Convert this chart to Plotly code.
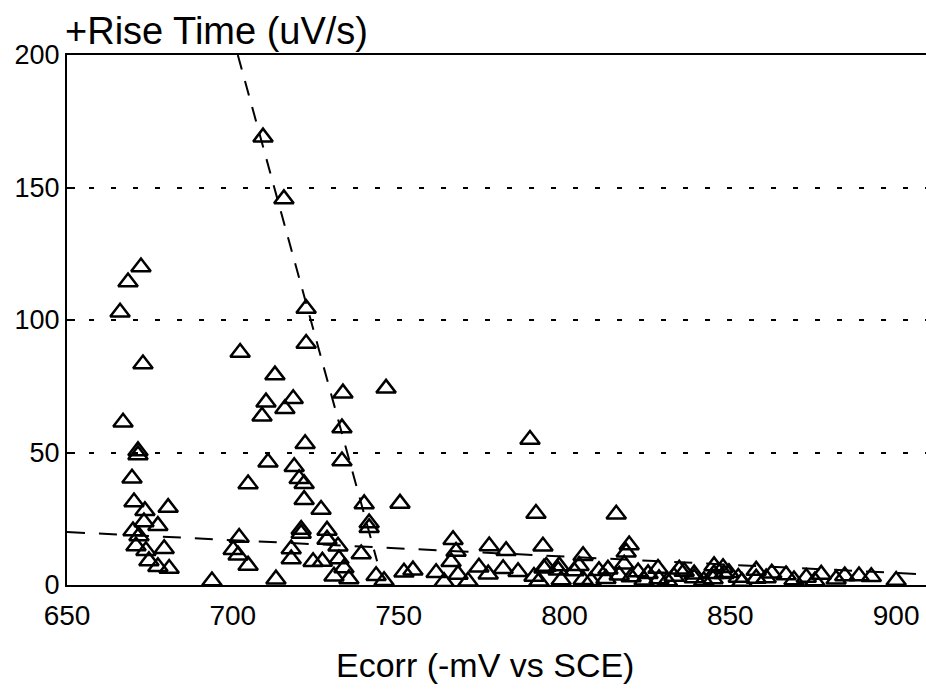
import plotly.graph_objects as go

# Data (Ecorr in -mV vs SCE, +Rise Time in uV/s)
ecorr = [
    672.3, 668.4, 666.0, 672.9, 666.9, 671.4, 671.4, 669.6, 670.2, 673.5, 680.5,
    673.2, 677.4, 669.9, 671.7, 670.8, 673.8, 679.3, 674.7, 677.4, 680.8,
    709.1, 715.4, 722.1, 722.1, 702.2, 712.7, 733.2, 746.2, 710.0, 718.2, 715.7,
    708.8, 732.9, 721.8, 710.6, 732.9, 718.5, 704.6, 720.0, 721.5, 721.5, 726.6,
    739.6, 750.4, 741.1, 741.1, 701.9, 720.6, 720.6, 728.4, 728.4, 731.7, 700.1,
    701.6, 717.6, 717.6, 704.6, 724.2, 727.0, 738.7, 732.0, 733.5, 693.7, 713.0,
    730.5, 735.0, 743.2, 745.6, 751.6, 754.3,
    789.6, 791.4, 815.6, 766.4, 767.3, 777.3, 782.4, 793.5, 805.6, 819.5, 818.6,
    765.8, 761.3, 774.2, 781.5, 786.0, 793.8, 798.1, 802.9, 813.1, 818.0, 822.2,
    828.2, 763.7, 767.9, 770.9, 777.0, 790.8, 792.3, 799.0, 805.6, 810.4, 816.5,
    820.1, 794.5, 798.4, 804.4,
    834.6, 833.0, 839.1, 845.1, 848.1, 844.8, 825.2, 836.1, 839.1, 845.1, 847.8,
    849.6, 852.4, 857.8, 857.8, 860.8, 866.8, 869.2, 872.9, 877.4, 881.9, 888.8,
    892.5, 900.0,
    808.0, 812.5, 824.0, 828.5, 831.0, 842.0, 853.5, 862.5, 875.5, 884.5,
]
rise_time = [
    120.0, 114.3, 102.9, 83.4, 61.4, 50.6, 49.1, 40.3, 31.3, 28.0, 29.2,
    23.8, 22.4, 20.4, 18.5, 14.7, 12.9, 13.7, 9.1, 6.9, 6.2,
    169.0, 145.7, 104.3, 91.1, 87.7, 79.2, 72.4, 74.2, 69.0, 70.3, 66.5,
    63.7, 59.2, 53.3, 46.3, 46.8, 44.6, 38.1, 40.1, 38.2, 32.2, 28.5,
    30.6, 30.8, 23.4, 21.6, 17.9, 20.9, 19.4, 20.6, 17.2, 14.6, 13.3,
    11.2, 13.6, 9.8, 7.4, 8.8, 8.9, 11.7, 9.8, 6.4, 1.5, 2.2,
    3.3, 2.3, 3.5, 1.6, 4.8, 5.6,
    54.9, 27.0, 26.7, 17.1, 12.6, 14.7, 12.9, 14.6, 11.0, 15.1, 12.4,
    8.8, 4.6, 6.7, 6.1, 5.0, 6.3, 5.6, 5.3, 5.9, 7.8, 4.9,
    6.2, 1.2, 4.0, 1.4, 4.1, 3.2, 1.4, 1.9, 2.0, 5.4, 3.7,
    3.0, 7.0, 7.2, 7.3,
    5.9, 3.2, 2.6, 7.2, 4.2, 2.3, 4.2, 5.1, 4.1, 4.2, 6.5,
    4.6, 2.8, 5.5, 2.5, 2.6, 3.8, 1.9, 2.8, 4.0, 2.2, 3.4,
    3.1, 1.7,
    1.6, 2.4, 1.8, 2.3, 1.5, 1.6, 1.3, 4.4, 1.5, 3.4,
]

# Two dashed trend lines (end points)
steep_x = [701.5, 743.5]
steep_y = [200, 9]
flat_x = [650, 909]
flat_y = [20, 4.0]

x_ticks = [650, 700, 750, 800, 850, 900]
y_ticks = [0, 50, 100, 150, 200]

FONT = "Liberation Sans, Arial, Helvetica, sans-serif"

fig = go.Figure()
fig.add_trace(go.Scatter(x=steep_x, y=steep_y, mode="lines",
                         line=dict(color="black", width=2, dash="15px,12px"),
                         hoverinfo="skip", showlegend=False))
fig.add_trace(go.Scatter(x=flat_x, y=flat_y, mode="lines",
                         line=dict(color="black", width=2, dash="18px,14px"),
                         hoverinfo="skip", showlegend=False))
fig.add_trace(go.Scatter(x=ecorr, y=rise_time, mode="markers",
                         marker=dict(symbol="triangle-up-open", size=17,
                                     color="black", line=dict(width=2.5, color="black")),
                         showlegend=False))

fig.update_layout(
    width=926, height=692,
    margin=dict(l=67, r=0, t=55, b=107),
    paper_bgcolor="white", plot_bgcolor="white",
    font=dict(family=FONT, color="black", size=28),
    xaxis=dict(range=[650, 909], tickvals=x_ticks, ticktext=[str(v) for v in x_ticks],
               showgrid=False, zeroline=False, showline=True, linecolor="black",
               linewidth=2, mirror=True, ticks="", tickfont=dict(size=28),
               ticklabeloverflow="allow", ticklabelstandoff=4),
    yaxis=dict(range=[0, 200], tickvals=y_ticks, ticktext=[str(v) for v in y_ticks],
               showgrid=True, gridcolor="black", gridwidth=2, griddash="5px,17px",
               zeroline=False, showline=True, linecolor="black", linewidth=2,
               ticks="inside", ticklen=8, tickwidth=2, tickcolor="black",
               tickfont=dict(size=27)),
    annotations=[
        dict(text="+Rise Time (uV/s)", xref="paper", yref="paper", x=0, y=1,
             xanchor="left", yanchor="middle", xshift=-4, yshift=24,
             showarrow=False, font=dict(size=38, family=FONT)),
        dict(text="Ecorr (-mV vs SCE)", xref="paper", yref="paper", x=0.487, y=0,
             xanchor="center", yanchor="middle", yshift=-80,
             showarrow=False, font=dict(size=34, family=FONT)),
    ],
)

fig.write_html("out.html", config={"displayModeBar": False},
               post_script="document.body.style.margin='0';document.body.style.overflow='hidden';")
